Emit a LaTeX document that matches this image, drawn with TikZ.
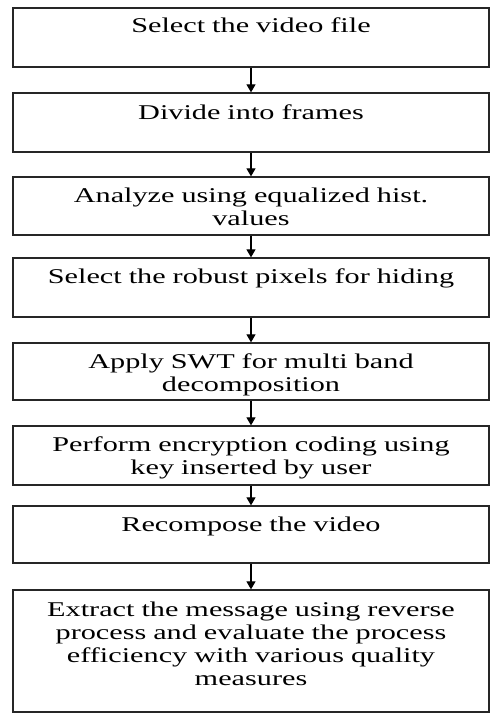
\documentclass[tikz,border=0pt]{standalone}
\usepackage{fontspec}
\setmainfont{Liberation Serif}[FakeStretch=1.44]
\usetikzlibrary{arrows.meta}
\begin{document}
\begin{tikzpicture}[x=1pt,y=-1pt,
  stepbox/.style={draw=black!85, line width=1.3pt, minimum width=476pt, inner sep=0pt, rectangle},
  txt/.style={text width=470pt, align=center, inner sep=0pt, anchor=base, font=\fontsize{21}{23}\selectfont},
  arr/.style={line width=1.2pt, -{Triangle[width=9pt,length=8pt]}}]
\useasboundingbox (0,0) rectangle (490,714);
\node[stepbox, minimum height=59pt] (b1) at (251,37.5) {};
\node[stepbox, minimum height=59pt] (b2) at (251,122.5) {};
\node[stepbox, minimum height=58pt] (b3) at (251,206) {};
\node[stepbox, minimum height=59pt] (b4) at (251,287.5) {};
\node[stepbox, minimum height=57pt] (b5) at (251,371.5) {};
\node[stepbox, minimum height=59pt] (b6) at (251,455.5) {};
\node[stepbox, minimum height=57pt] (b7) at (251,534.5) {};
\node[stepbox, minimum height=122pt] (b8) at (251,651) {};
\node[txt] (t1) at ([yshift=-25pt]b1.north) {Select the video file};
\node[txt] (t2) at ([yshift=-27pt]b2.north) {Divide into frames};
\node[txt] (t3) at ([yshift=-26pt]b3.north) {Analyze using equalized hist.\\values};
\node[txt] (t4) at ([yshift=-26pt]b4.north) {Select the robust pixels for hiding};
\node[txt] (t5) at ([yshift=-26pt]b5.north) {Apply SWT for multi band\\decomposition};
\node[txt] (t6) at ([yshift=-26pt]b6.north) {Perform encryption coding using\\key inserted by user};
\node[txt] (t7) at ([yshift=-26pt]b7.north) {Recompose the video};
\node[txt] (t8) at ([yshift=-27pt]b8.north) {Extract the message using reverse\\process and evaluate the process\\efficiency with various quality\\measures};
\draw[arr] (b1.south) -- (b2.north);
\draw[arr] (b2.south) -- (b3.north);
\draw[arr] (b3.south) -- (b4.north);
\draw[arr] (b4.south) -- (b5.north);
\draw[arr] (b5.south) -- (b6.north);
\draw[arr] (b6.south) -- (b7.north);
\draw[arr] (b7.south) -- (b8.north);
\end{tikzpicture}
\end{document}
